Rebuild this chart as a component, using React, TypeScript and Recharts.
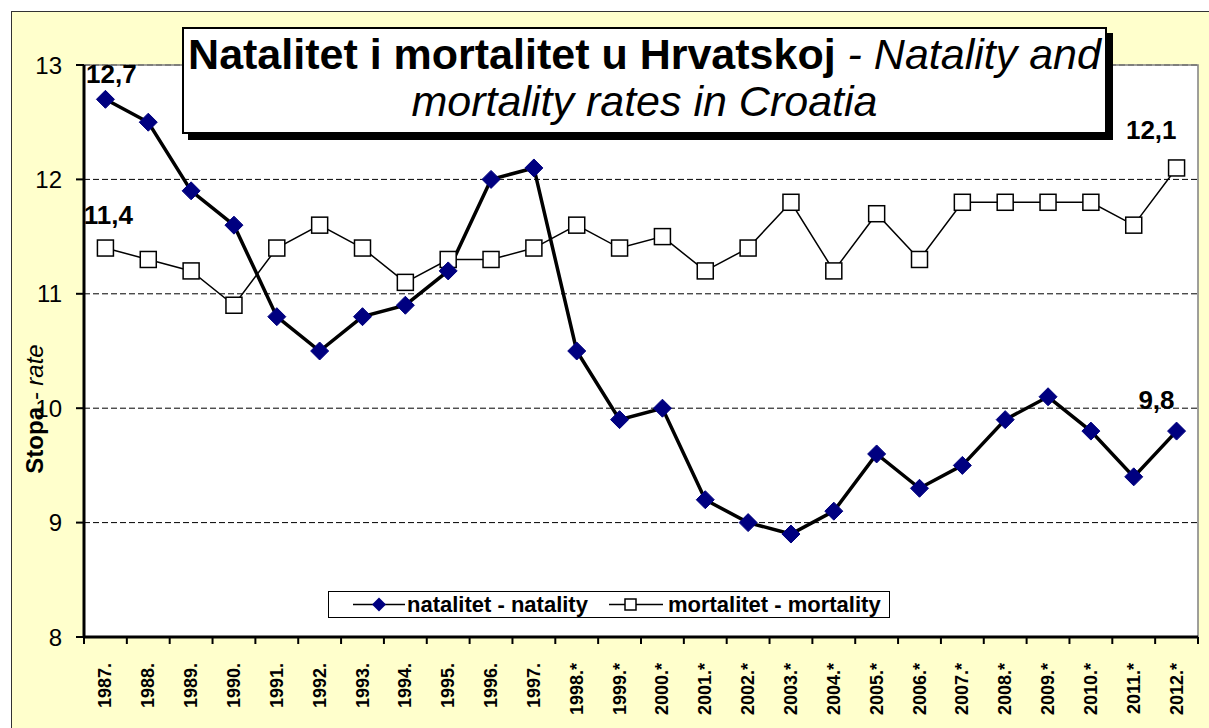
import React from "react";
import { LineChart, Line, XAxis, YAxis, CartesianGrid, ReferenceArea, LabelList } from "recharts";

const years = [
  "1987.", "1988.", "1989.", "1990.", "1991.", "1992.", "1993.", "1994.", "1995.", "1996.", "1997.",
  "1998.*", "1999.*", "2000.*", "2001.*", "2002.*", "2003.*", "2004.*", "2005.*", "2006.*", "2007.*",
  "2008.*", "2009.*", "2010.*", "2011.*", "2012.*",
];
const natality = [12.7, 12.5, 11.9, 11.6, 10.8, 10.5, 10.8, 10.9, 11.2, 12.0, 12.1, 10.5, 9.9, 10.0, 9.2, 9.0, 8.9, 9.1, 9.6, 9.3, 9.5, 9.9, 10.1, 9.8, 9.4, 9.8];
const mortality = [11.4, 11.3, 11.2, 10.9, 11.4, 11.6, 11.4, 11.1, 11.3, 11.3, 11.4, 11.6, 11.4, 11.5, 11.2, 11.4, 11.8, 11.2, 11.7, 11.3, 11.8, 11.8, 11.8, 11.8, 11.6, 12.1];
const yTicks = [8, 9, 10, 11, 12, 13];

const data = years.map((year, i) => ({ year, natality: natality[i], mortality: mortality[i] }));

const FONT = "'Liberation Sans', Arial, sans-serif";
const fmt = (v: number) => v.toFixed(1).replace(".", ",");

const Diamond = (props: any) => {
  const { cx, cy, index } = props;
  if (cx == null || cy == null) return null;
  const r = 9;
  return (
    <polygon
      key={`d-${index}`}
      points={`${cx},${cy - r} ${cx + r},${cy} ${cx},${cy + r} ${cx - r},${cy}`}
      fill="#000080"
      stroke="#000080"
    />
  );
};

const Square = (props: any) => {
  const { cx, cy, index } = props;
  if (cx == null || cy == null) return null;
  return <rect key={`s-${index}`} x={cx - 8} y={cy - 8} width={16} height={16} fill="#fff" stroke="#000" strokeWidth={1.5} />;
};

const XTick = (props: any) => {
  const { x, y, payload, index } = props;
  const off = payload?.offset ?? 21.4;
  return (
    <g>
      <line x1={x - off} x2={x - off} y1={y} y2={y + 7} stroke="#000" strokeWidth={2} />
      {index === years.length - 1 && <line x1={x + off} x2={x + off} y1={y} y2={y + 7} stroke="#000" strokeWidth={2} />}
      <text
        x={x}
        y={y + 26}
        transform={`rotate(-90 ${x} ${y + 26})`}
        textAnchor="end"
        dominantBaseline="central"
        fontFamily={FONT}
        fontWeight="bold"
        fontSize={18}
        fill="#000"
      >
        {payload.value}
      </text>
    </g>
  );
};

const natLabel = (props: any) => {
  const { x, y, value, index } = props;
  const common = { fontFamily: FONT, fontWeight: "bold" as const, fontSize: 26, fill: "#000" };
  if (index === 0) return <text x={x + 6} y={y - 16} textAnchor="middle" {...common}>{fmt(value)}</text>;
  if (index === years.length - 1) return <text x={x - 2} y={y - 22} textAnchor="end" {...common}>{fmt(value)}</text>;
  return null;
};

const mortLabel = (props: any) => {
  const { x, y, value, index } = props;
  const common = { fontFamily: FONT, fontWeight: "bold" as const, fontSize: 26, fill: "#000" };
  if (index === 0) return <text x={x + 3} y={y - 24} textAnchor="middle" {...common}>{fmt(value)}</text>;
  if (index === years.length - 1) return <text x={x} y={y - 29} textAnchor="end" {...common}>{fmt(value)}</text>;
  return null;
};

const YLabel = (props: any) => {
  const vb = props.viewBox || { x: 24, y: 65, width: 60, height: 572 };
  const cx = 34;
  const cy = vb.y + vb.height / 2 + 58;
  return (
    <text x={cx} y={cy} transform={`rotate(-90 ${cx} ${cy})`} textAnchor="middle" dominantBaseline="central" fontFamily={FONT} fontSize={24} fill="#000">
      <tspan fontWeight="bold">Stopa</tspan>
      <tspan fontStyle="italic"> - rate</tspan>
    </text>
  );
};

export default function App() {
  return (
    <div style={{ position: "absolute", left: 0, top: 0, width: 1209, height: 728, background: "#fff", overflow: "hidden" }}>
      <div
        style={{
          position: "absolute",
          left: 11,
          top: 11,
          width: 1209,
          height: 740,
          background: "#FFFFCC",
          border: "1.5px solid #333",
        }}
      />
      <div style={{ position: "absolute", left: 0, top: 0 }}>
        <LineChart width={1209} height={728} data={data} margin={{ top: 65, right: 11, bottom: 0, left: 24 }}>
          <CartesianGrid vertical={false} stroke="#000" strokeDasharray="6 3" fill="#fff" fillOpacity={1} />
          <ReferenceArea y1={8} y2={13} fill="none" stroke="#808080" strokeWidth={1.5} ifOverflow="visible" />
          <XAxis
            dataKey="year"
            scale="band"
            interval={0}
            height={91}
            tickLine={false}
            tickSize={0}
            tickMargin={0}
            axisLine={{ stroke: "#000", strokeWidth: 3 }}
            tick={<XTick />}
          />
          <YAxis
            domain={[8, 13]}
            ticks={yTicks}
            width={60}
            tickSize={8}
            tickMargin={14}
            axisLine={{ stroke: "#000", strokeWidth: 3 }}
            tickLine={{ stroke: "#000", strokeWidth: 2 }}
            tick={{ fill: "#000", fontSize: 24, fontFamily: FONT }}
            label={<YLabel />}
          />
          <Line
            dataKey="mortality"
            stroke="#000"
            strokeWidth={1.5}
            dot={<Square />}
            activeDot={false}
            isAnimationActive={false}
          >
            <LabelList dataKey="mortality" content={mortLabel} />
          </Line>
          <Line
            dataKey="natality"
            stroke="#000"
            strokeWidth={3.5}
            dot={<Diamond />}
            activeDot={false}
            isAnimationActive={false}
          >
            <LabelList dataKey="natality" content={natLabel} />
          </Line>
        </LineChart>
      </div>

      <div
        style={{
          position: "absolute",
          left: 182,
          top: 27,
          width: 921,
          height: 101,
          background: "#fff",
          border: "2px solid #000",
          boxShadow: "6px 6px 0 #000",
          fontFamily: FONT,
          fontSize: 43,
          lineHeight: "47px",
          textAlign: "center",
          color: "#000",
          paddingTop: 2,
          boxSizing: "content-box",
          whiteSpace: "nowrap",
        }}
      >
        <span style={{ fontWeight: "bold" }}>Natalitet i mortalitet u Hrvatskoj</span>
        <span style={{ fontStyle: "italic" }}> - Natality and</span>
        <br />
        <span style={{ fontStyle: "italic" }}>mortality rates in Croatia</span>
      </div>

      <div
        style={{
          position: "absolute",
          left: 328,
          top: 591,
          width: 560,
          height: 25,
          background: "#fff",
          border: "1.5px solid #000",
          fontFamily: FONT,
          fontWeight: "bold",
          fontSize: 22,
          display: "flex",
          alignItems: "center",
          color: "#000",
          whiteSpace: "nowrap",
        }}
      >
        <svg width={78} height={25} style={{ flex: "none" }}>
          <line x1={24} x2={76} y1={12.5} y2={12.5} stroke="#000" strokeWidth={1.5} />
          <polygon points="50,5.5 57,12.5 50,19.5 43,12.5" fill="#000080" />
        </svg>
        <span>natalitet - natality</span>
        <svg width={80} height={25} style={{ flex: "none" }}>
          <line x1={21} x2={75} y1={12.5} y2={12.5} stroke="#000" strokeWidth={1.5} />
          <rect x={37} y={7} width={11} height={11} fill="#fff" stroke="#000" strokeWidth={1.5} />
        </svg>
        <span>mortalitet - mortality</span>
      </div>
    </div>
  );
}
